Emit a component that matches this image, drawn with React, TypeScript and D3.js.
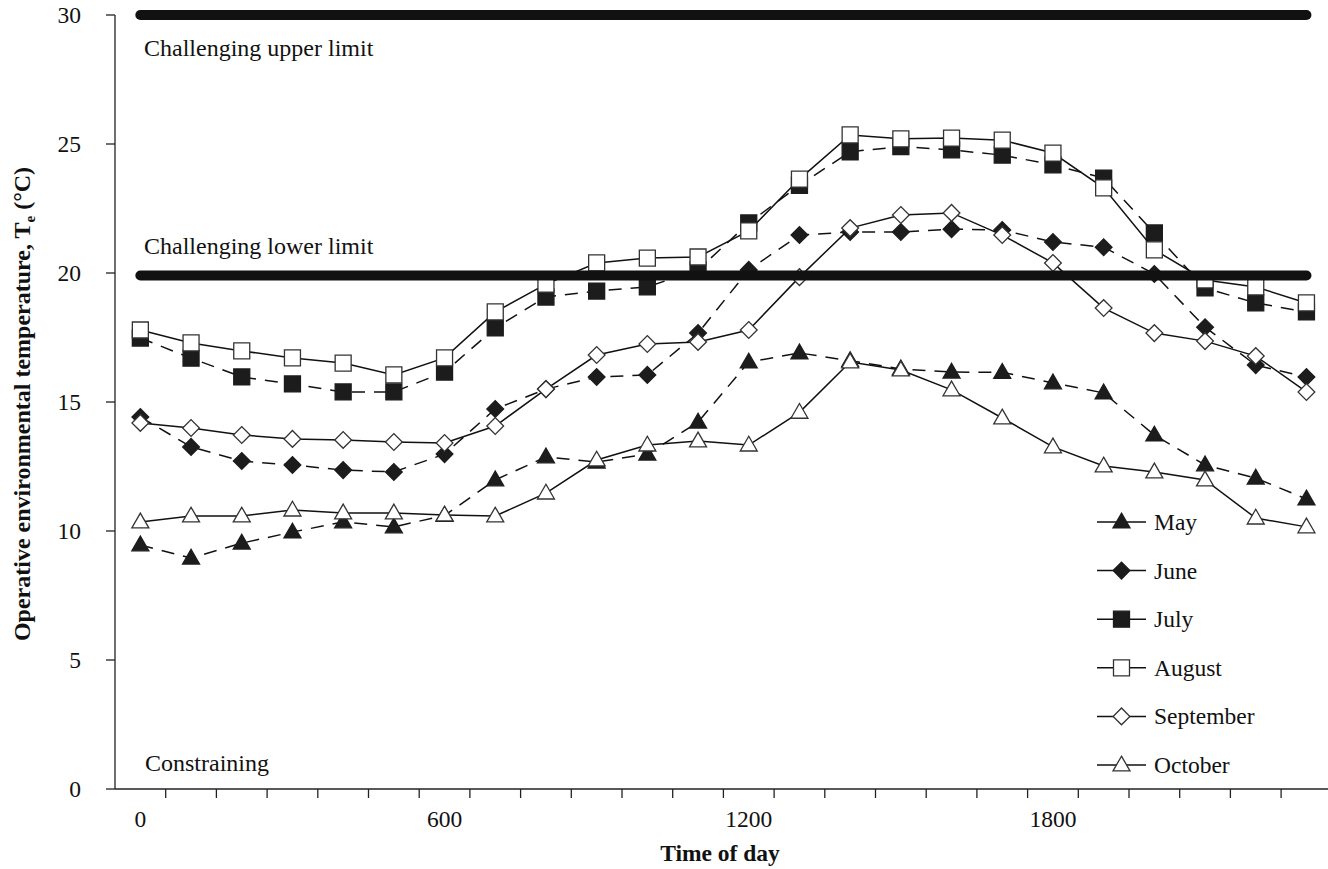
import React from 'react';
import * as d3 from 'd3';

const times = ['0', '100', '200', '300', '400', '500', '600', '700', '800', '900', '1000', '1100',
  '1200', '1300', '1400', '1500', '1600', '1700', '1800', '1900', '2000', '2100', '2200', '2300'];
const tickLabels = ['0', '600', '1200', '1800'];
const yTicks = [0, 5, 10, 15, 20, 25, 30];

const may = [9.46, 8.95, 9.53, 9.96, 10.35, 10.16, 10.6, 11.98, 12.87, 12.67, 12.98, 14.22,
  16.55, 16.9, 16.6, 16.28, 16.16, 16.15, 15.74, 15.35, 13.72, 12.56, 12.05, 11.24];
const june = [14.42, 13.26, 12.71, 12.56, 12.36, 12.29, 12.98, 14.73, 15.5, 15.97, 16.05, 17.67,
  20.12, 21.47, 21.59, 21.59, 21.7, 21.67, 21.2, 21.0, 19.96, 17.9, 16.43, 15.97];
const july = [17.48, 16.7, 15.97, 15.7, 15.39, 15.39, 16.16, 17.87, 19.07, 19.3, 19.46, 20.12,
  21.94, 23.4, 24.7, 24.9, 24.77, 24.57, 24.19, 23.68, 21.55, 19.42, 18.84, 18.49];
const august = [17.79, 17.29, 16.98, 16.71, 16.51, 16.05, 16.71, 18.49, 19.57, 20.39, 20.58, 20.62,
  21.63, 23.64, 25.35, 25.2, 25.23, 25.15, 24.65, 23.3, 20.9, 19.73, 19.46, 18.84];
const september = [14.19, 13.99, 13.72, 13.57, 13.53, 13.45, 13.41, 14.07, 15.5, 16.82, 17.25, 17.33,
  17.79, 19.84, 21.74, 22.25, 22.33, 21.47, 20.39, 18.64, 17.67, 17.36, 16.78, 15.39];
const october = [10.35, 10.58, 10.58, 10.81, 10.7, 10.7, 10.62, 10.58, 11.47, 12.75, 13.33, 13.49,
  13.33, 14.6, 16.55, 16.24, 15.47, 14.38, 13.26, 12.52, 12.29, 11.98, 10.5, 10.16];

const upperLimit = 30;
const lowerLimit = 19.9;

const series = [
  { name: 'May', values: may, shape: 'triangle', filled: true, dashed: true },
  { name: 'June', values: june, shape: 'diamond', filled: true, dashed: true },
  { name: 'July', values: july, shape: 'square', filled: true, dashed: true },
  { name: 'August', values: august, shape: 'square', filled: false, dashed: false },
  { name: 'September', values: september, shape: 'diamond', filled: false, dashed: false },
  { name: 'October', values: october, shape: 'triangle', filled: false, dashed: false },
];

const W = 1328;
const H = 869;
const FONT = '"Liberation Serif", "Times New Roman", serif';

function symbolPath(shape: string) {
  if (shape === 'triangle') return d3.symbol(d3.symbolTriangle, 125)()!;
  if (shape === 'square') return d3.symbol(d3.symbolSquare, 256)()!;
  return d3.symbol(d3.symbolSquare, 140)()!;
}

function Marker({ shape, filled, cx, cy }: { shape: string; filled: boolean; cx: number; cy: number }) {
  const rot = shape === 'diamond' ? ' rotate(45)' : '';
  const dy = shape === 'triangle' ? 1 : 0;
  return (
    <path
      d={symbolPath(shape)}
      transform={`translate(${cx},${cy + dy})${rot}`}
      fill={filled ? '#1c1c1c' : '#fff'}
      stroke={filled ? '#1c1c1c' : '#333'}
      strokeWidth={1.3}
    />
  );
}

export default function App() {
  const step = 50.7;
  const x0 = 115;
  const x = d3.scaleBand().domain(times).range([x0, x0 + step * times.length]).padding(0);
  const y = d3.scaleLinear().domain([0, 30]).range([789, 15]);
  const cx = (t: string) => (x(t) as number) + x.bandwidth() / 2;

  const line = d3.line<number>()
    .x((_, i) => cx(times[i]))
    .y(d => y(d));

  const limitLine = (v: number) =>
    `M${cx(times[0])},${y(v)}L${cx(times[times.length - 1])},${y(v)}`;

  const legendY = d3.scalePoint().domain(series.map(s => s.name)).range([522, 765]);

  return (
    <svg width={W} height={H} style={{ position: 'absolute', left: 0, top: 0, background: '#fff' }}
      fontFamily={FONT}>
      <rect width={W} height={H} fill="#fff" />

      {/* axes */}
      <line x1={x0} x2={x0} y1={y(30)} y2={y(0)} stroke="#222" strokeWidth={1.3} />
      <line x1={x0} x2={W} y1={y(0)} y2={y(0)} stroke="#222" strokeWidth={1.3} />
      {yTicks.map(t => (
        <g key={t}>
          <line x1={x0 - 9} x2={x0} y1={y(t)} y2={y(t)} stroke="#222" strokeWidth={1.3} />
          <text x={81} y={y(t)} dy="0.36em" textAnchor="end" fontSize={23.5} fill="#111">{t}</text>
        </g>
      ))}
      {times.map(t => (
        <line key={t} x1={(x(t) as number) + step} x2={(x(t) as number) + step}
          y1={y(0)} y2={y(0) + 9} stroke="#222" strokeWidth={1.3} />
      ))}
      {tickLabels.map(t => (
        <text key={t} x={cx(t)} y={827} textAnchor="middle" fontSize={23.5} fill="#111">{t}</text>
      ))}

      <text x={720} y={861} textAnchor="middle" fontSize={23.5} fontWeight="bold" fill="#111">Time of day</text>
      <text transform="translate(30,404) rotate(-90)" textAnchor="middle" fontSize={24}
        fontWeight="bold" fill="#111">
        Operative environmental temperature, T<tspan fontSize={15} dy={5}>e</tspan>
        <tspan dy={-5}> (°C)</tspan>
      </text>

      {/* zone labels */}
      <text x={144} y={56} fontSize={24} fill="#111">Challenging upper limit</text>
      <text x={144} y={254} fontSize={24} fill="#111">Challenging lower limit</text>
      <text x={145} y={771} fontSize={24} fill="#111">Constraining</text>

      {/* series */}
      {series.map(s => (
        <g key={s.name}>
          <path d={line(s.values)!} fill="none" stroke="#111" strokeWidth={1.5}
            strokeDasharray={s.dashed ? '13,9' : undefined} />
          {s.values.map((v, i) => (
            <Marker key={i} shape={s.shape} filled={s.filled} cx={cx(times[i])} cy={y(v)} />
          ))}
        </g>
      ))}

      {/* limit lines */}
      <path d={limitLine(upperLimit)} stroke="#111" strokeWidth={10} strokeLinecap="round" />
      <path d={limitLine(lowerLimit)} stroke="#111" strokeWidth={10} strokeLinecap="round" />

      {/* legend */}
      {series.map(s => {
        const ly = legendY(s.name) as number;
        return (
          <g key={s.name}>
            <line x1={1097} x2={1146} y1={ly} y2={ly} stroke="#111" strokeWidth={1.5} />
            <Marker shape={s.shape} filled={s.filled} cx={1121.5} cy={ly} />
            <text x={1154} y={ly + 8} fontSize={23.5} fill="#111">{s.name}</text>
          </g>
        );
      })}
    </svg>
  );
}
